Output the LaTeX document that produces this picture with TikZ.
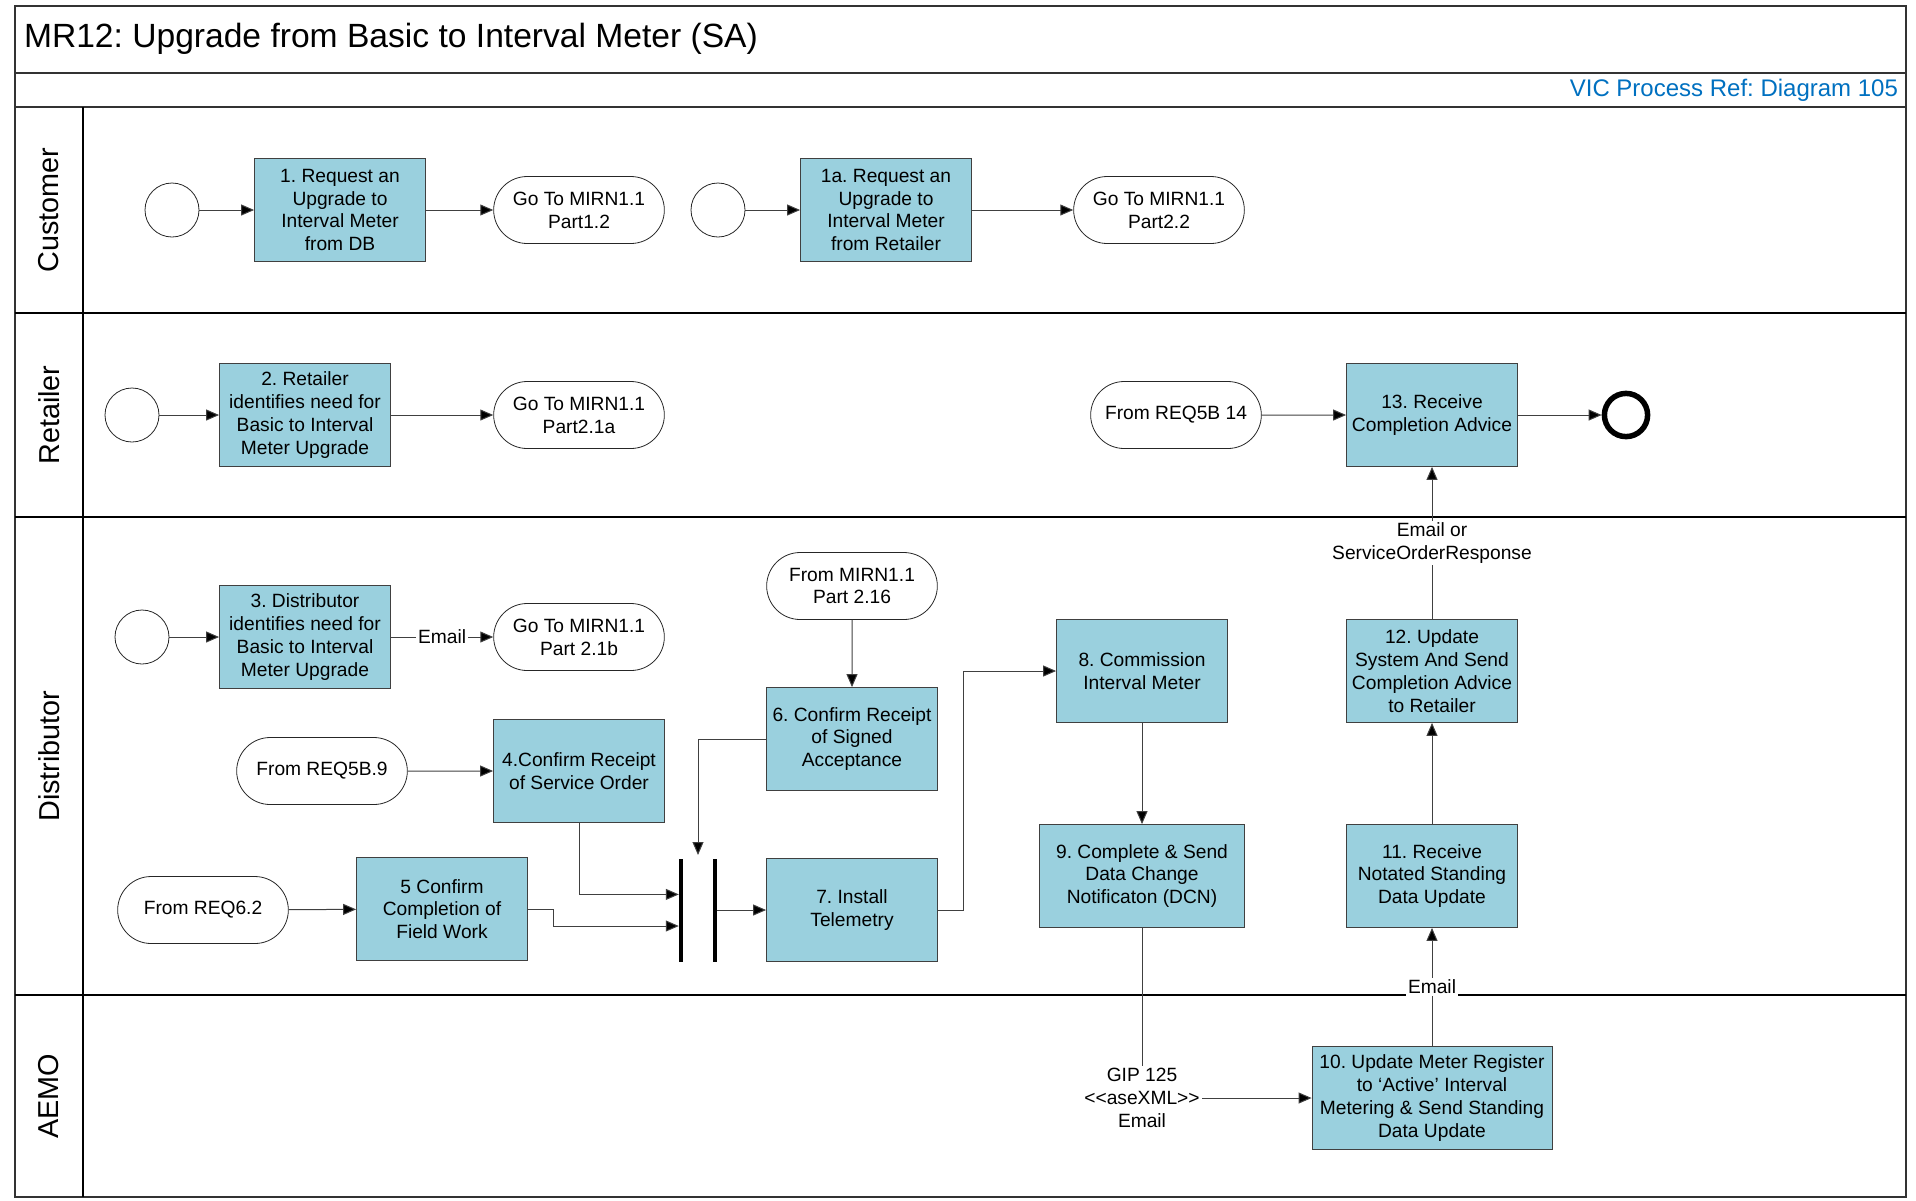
\documentclass[tikz,border=0pt]{standalone}
\usepackage{fontspec}
\setmainfont{Liberation Sans}
\usetikzlibrary{arrows.meta,shapes.misc}
\definecolor{taskblue}{RGB}{154,208,222}
\definecolor{refblue}{RGB}{0,112,192}
\definecolor{edge}{RGB}{64,64,64}
\frenchspacing

\begin{document}
\begin{tikzpicture}[x=0.5pt, y=-0.5pt,
    font=\fontsize{9.6}{11.4}\selectfont,
    task/.style={rectangle, draw=edge, fill=taskblue, minimum width=85.5pt, minimum height=51.5pt, align=center, inner sep=2pt},
    term/.style={rounded rectangle, draw=black!85, minimum width=92pt, minimum height=33.5pt, align=center},
    start/.style={circle, draw=black!85, minimum size=27pt},
    stop/.style={circle, draw=black, line width=2.75pt, minimum size=21.6pt},
    bar/.style={rectangle, fill=black, minimum width=1.8pt, minimum height=51.5pt, inner sep=0pt},
    arrow/.style={-{Triangle[length=6.5pt,width=5.5pt,fill=black]}, draw=edge, line width=0.5pt},
    link/.style={draw=edge, line width=0.5pt},
    lbl/.style={fill=white, inner sep=1pt, align=center},
    frame/.style={draw=black!80, line width=1pt},
    lane/.style={draw=black, line width=0.6pt},
    lanename/.style={rotate=90, font=\fontsize{14.4}{17}\selectfont}
]

\useasboundingbox (0,0) rectangle (1916,1200);

\draw[frame] (15,6) rectangle (1906,1197);
\draw[frame] (15,73) -- (1906,73);
\draw[frame] (15,107) -- (1906,107);
\draw[lane] (83,107) -- (83,1197);
\foreach \y in {313,517,995}
    \draw[lane] (15,\y) -- (1906,\y);

\node[anchor=west, font=\fontsize{16.8}{20}\selectfont] (title) at (17,39) {MR12: Upgrade from Basic to Interval Meter (SA)};
\node[anchor=east, text=refblue, font=\fontsize{12}{14}\selectfont] (ref) at (1905,90) {VIC Process Ref: Diagram 105};

\node[lanename] (customer) at (49,210) {Customer};
\node[lanename] (retailer) at (49,415) {Retailer};
\node[lanename] (distributor) at (49,756) {Distributor};
\node[lanename] (aemo) at (49,1096) {AEMO};

\node[start] (c1) at (172,210) {};
\node[task] (b1) at (340,210) {1. Request an\\Upgrade to\\Interval Meter\\from DB};
\node[term] (g12) at (579,210) {Go To MIRN1.1\\Part1.2};
\node[start] (c1a) at (718,210) {};
\node[task] (b1a) at (886,210) {1a. Request an\\Upgrade to\\Interval Meter\\from Retailer};
\node[term] (g22) at (1159,210) {Go To MIRN1.1\\Part2.2};

\draw[arrow] (c1) -- (b1);
\draw[arrow] (b1) -- (g12);
\draw[arrow] (c1a) -- (b1a);
\draw[arrow] (b1a) -- (g22);

\node[start] (c2) at (132,415) {};
\node[task] (b2) at (305,415) {2. Retailer\\identifies need for\\Basic to Interval\\Meter Upgrade};
\node[term] (g21a) at (579,415) {Go To MIRN1.1\\Part2.1a};
\node[term] (f14) at (1176,415) {From REQ5B 14};
\node[task] (b13) at (1432,415) {13. Receive\\Completion Advice};
\node[stop] (end) at (1626,415) {};

\draw[arrow] (c2) -- (b2);
\draw[arrow] (b2) -- (g21a);
\draw[arrow] (f14) -- (b13);
\draw[arrow] (b13) -- (end);

\node[start] (c3) at (142,637) {};
\node[task] (b3) at (305,637) {3. Distributor\\identifies need for\\Basic to Interval\\Meter Upgrade};
\node[term] (g21b) at (579,637) {Go To MIRN1.1\\Part 2.1b};
\node[term] (f216) at (852,586) {From MIRN1.1\\Part 2.16};
\node[task] (b6) at (852,739) {6. Confirm Receipt\\of Signed\\Acceptance};
\node[task] (b8) at (1142,671) {8. Commission\\Interval Meter};
\node[task] (b12) at (1432,671) {12. Update\\System And Send\\Completion Advice\\to Retailer};
\node[term] (f59) at (322,771) {From REQ5B.9};
\node[task] (b4) at (579,771) {4.Confirm Receipt\\of Service Order};
\node[term] (f62) at (203,910) {From REQ6.2};
\node[task] (b5) at (442,909) {5 Confirm\\Completion of\\Field Work};
\node[bar] (j1) at (681,910) {};
\node[bar] (j2) at (715,910) {};
\coordinate (jin) at (698,855);
\node[task] (b7) at (852,910) {7. Install\\Telemetry};
\node[task, minimum width=102.5pt] (b9) at (1142,876) {9. Complete \& Send\\Data Change\\Notificaton (DCN)};
\node[task] (b11) at (1432,876) {11. Receive\\Notated Standing\\Data Update};

\draw[arrow] (c3) -- (b3);
\draw[arrow] (b3) -- node[lbl] {Email} (g21b);
\draw[arrow] (f216) -- (b6);
\draw[arrow] (f59) -- (b4);
\draw[arrow] (f62) -- (b5);
\draw[arrow] (b6.west) -| (jin);
\draw[arrow] (b4.south) |- ([yshift=7.8pt]j1.west);
\draw[arrow] (b5.east) -- ++(26,0) |- ([yshift=-8pt]j1.west);
\draw[arrow] (j2) -- (b7);
\draw[arrow] (b7.east) -- ++(26,0) |- (b8.west);
\draw[arrow] (b8) -- (b9);
\draw[arrow] (b11) -- (b12);
\draw[arrow] (b12) -- node[lbl] {Email or\\ServiceOrderResponse} (b13);

\node[task, minimum width=120pt] (b10) at (1432,1098) {10. Update Meter Register\\to ‘Active’ Interval\\Metering \& Send Standing\\Data Update};
\node[lbl] (gip) at (1142,1098) {GIP 125\\<\kern0pt<aseXML>\kern0pt>\\Email};

\draw[link] (b9) -- (gip);
\draw[arrow] (gip) -- (b10);
\draw[arrow] (b10) -- node[lbl] {Email} (b11);

\end{tikzpicture}
\end{document}
